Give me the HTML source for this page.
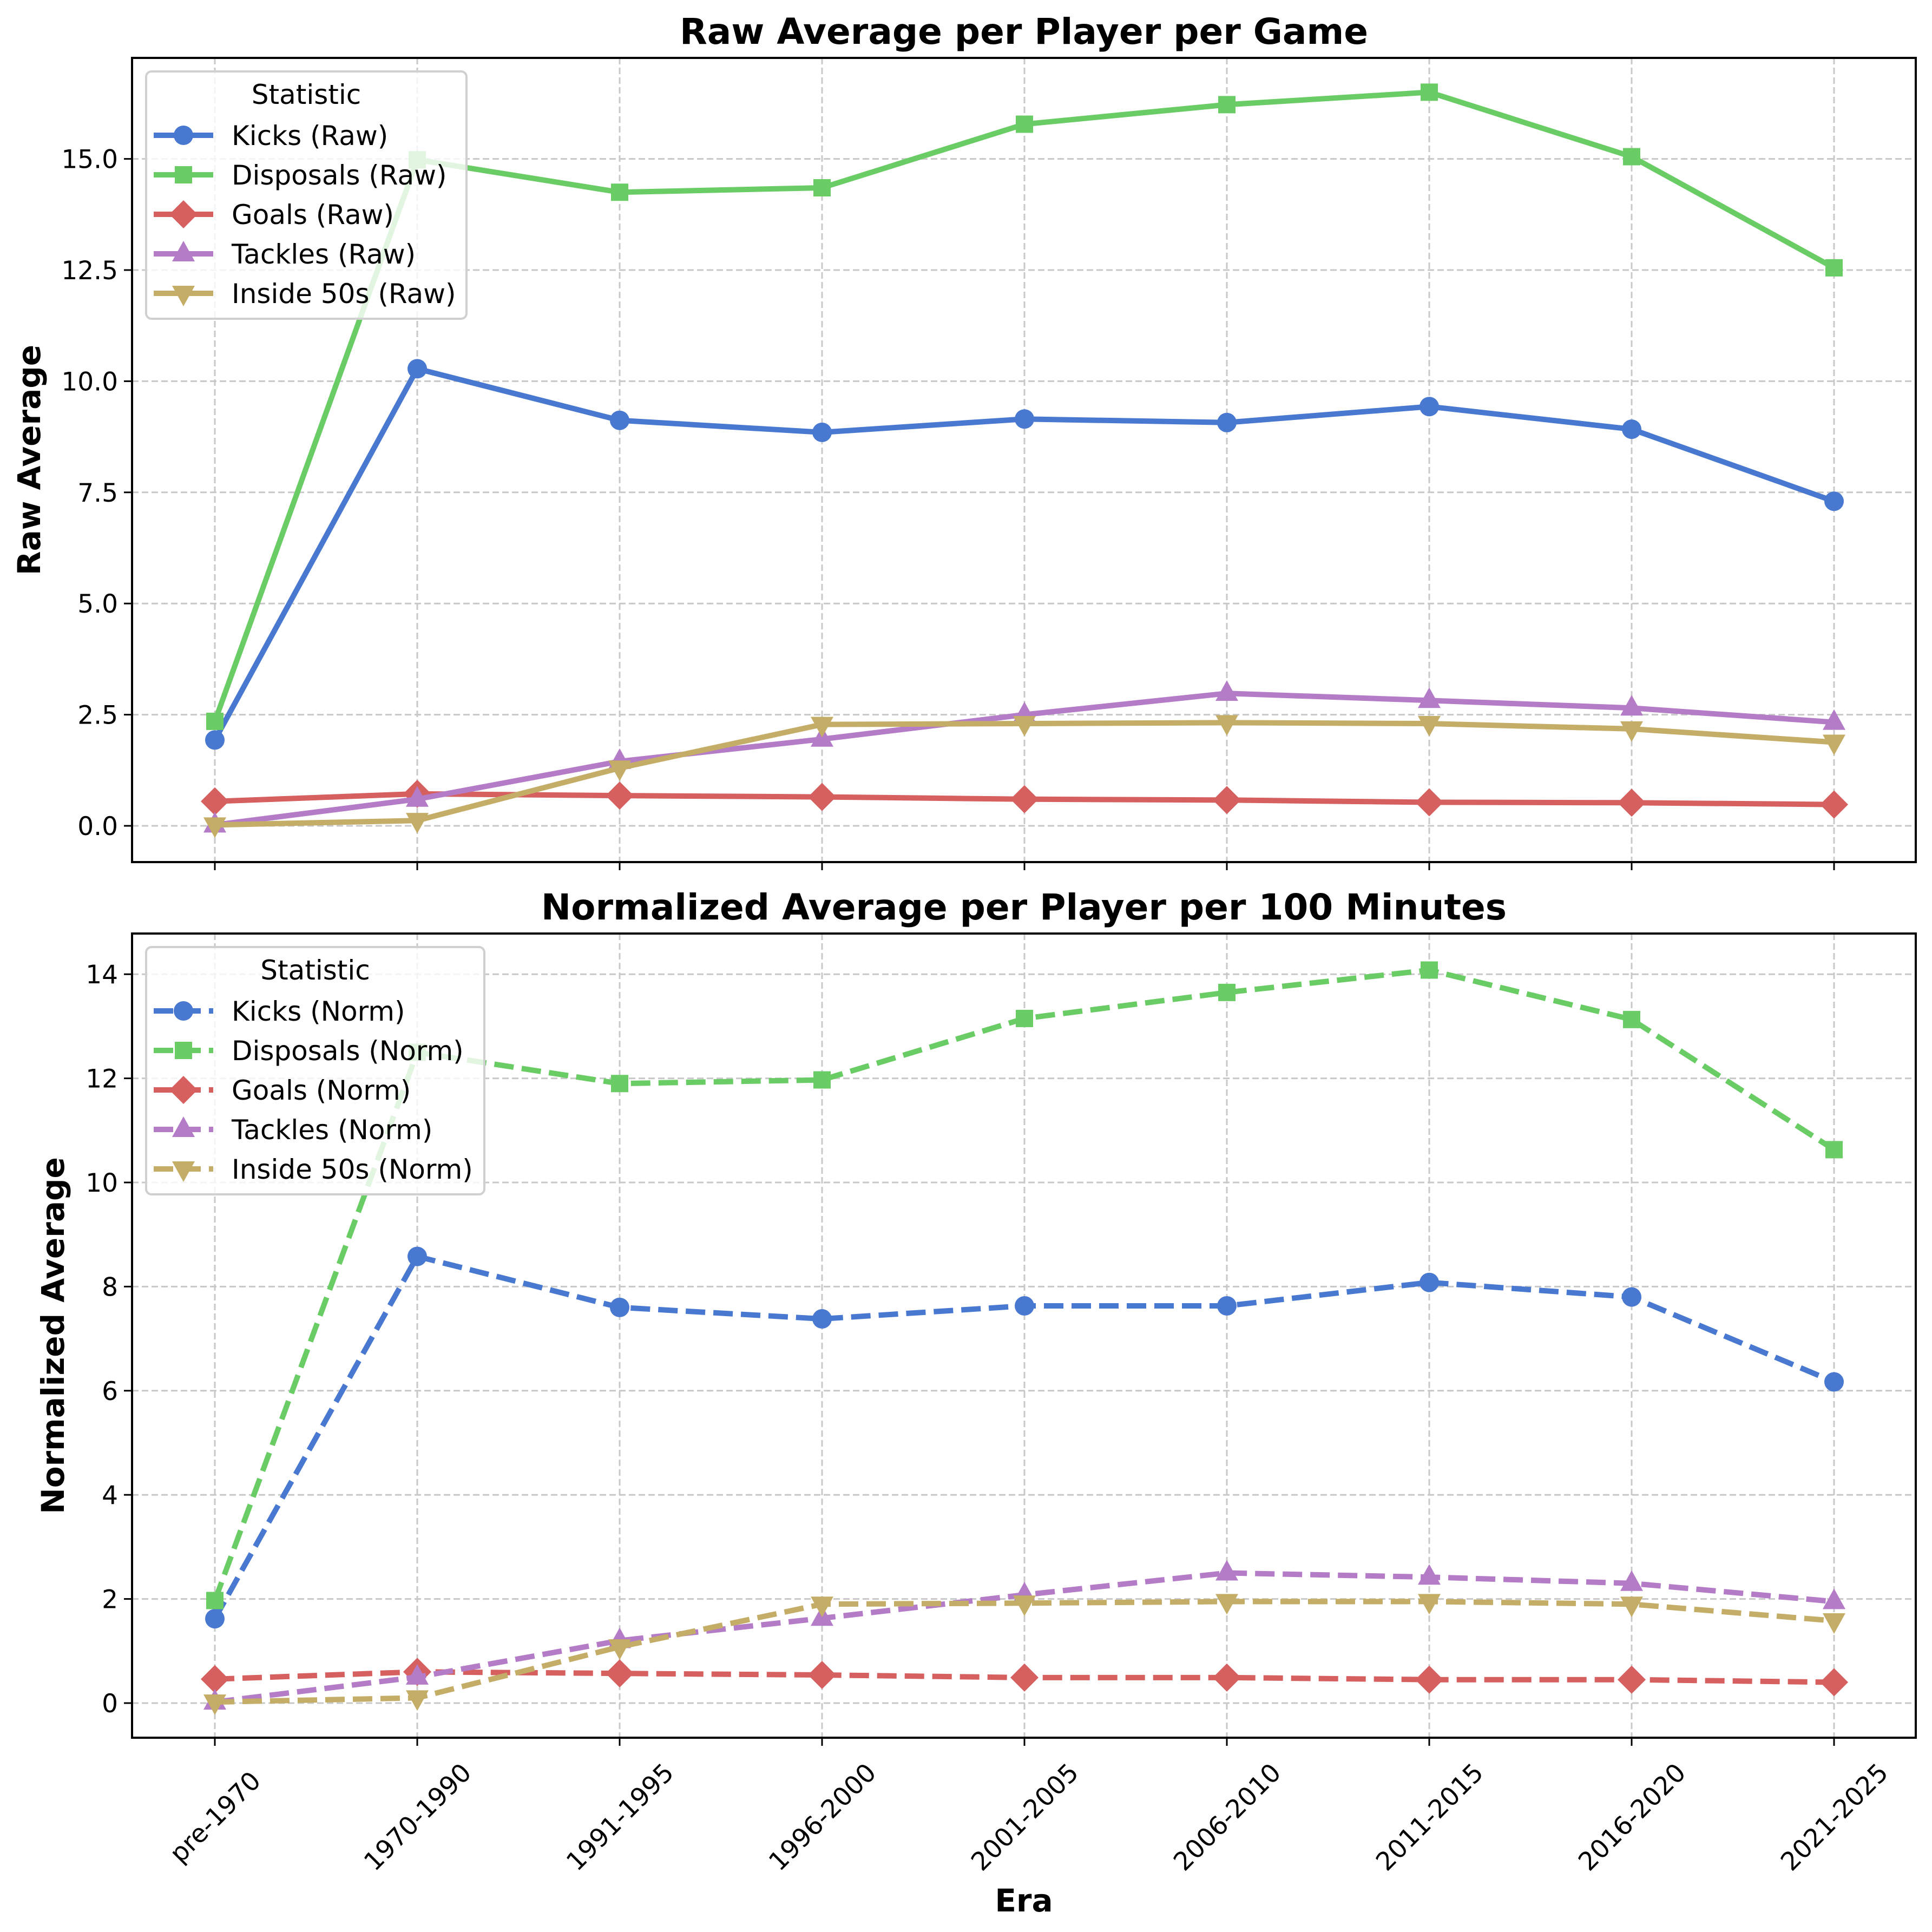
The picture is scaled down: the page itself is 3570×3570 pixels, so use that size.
<!DOCTYPE html>
<html><head><meta charset="utf-8"><style>
html,body{margin:0;padding:0;background:#fff}
svg{display:block}
text{font-family:"DejaVu Sans","Liberation Sans",sans-serif}
</style></head><body>
<svg id="chart" xmlns="http://www.w3.org/2000/svg" width="3570" height="3570" viewBox="0 0 3570 3570"></svg>
<script>
const eras = ["pre-1970","1970-1990","1991-1995","1996-2000","2001-2005","2006-2010","2011-2015","2016-2020","2021-2025"];
const rawKicks = [1.93,10.28,9.12,8.85,9.15,9.07,9.43,8.92,7.3];
const rawDisposals = [2.35,14.98,14.25,14.35,15.78,16.22,16.5,15.05,12.55];
const rawGoals = [0.55,0.72,0.68,0.65,0.6,0.58,0.53,0.52,0.48];
const rawTackles = [0.02,0.6,1.45,1.95,2.5,2.98,2.82,2.65,2.33];
const rawInside50 = [0.02,0.12,1.3,2.28,2.3,2.32,2.3,2.18,1.88];
const normKicks = [1.62,8.58,7.6,7.38,7.63,7.63,8.08,7.8,6.17];
const normDisposals = [1.97,12.5,11.9,11.97,13.15,13.65,14.08,13.13,10.63];
const normGoals = [0.46,0.6,0.57,0.54,0.49,0.49,0.45,0.45,0.4];
const normTackles = [0.02,0.5,1.2,1.63,2.08,2.5,2.42,2.3,1.95];
const normInside50 = [0.02,0.1,1.08,1.9,1.92,1.95,1.95,1.9,1.58];
const rawTicks = [0,2.5,5,7.5,10,12.5,15];
const rawTickLabels = ["0.0","2.5","5.0","7.5","10.0","12.5","15.0"];
const normTicks = [0,2,4,6,8,10,12,14];
const normTickLabels = ["0","2","4","6","8","10","12","14"];
const statNames = ["Kicks","Disposals","Goals","Tackles","Inside 50s"];

const NS="http://www.w3.org/2000/svg";
const svg=document.getElementById('chart');
const colors=["#4878d0","#6acc64","#d65f5f","#b47cc7","#c4ad66"];
const markers=["circle","square","diamond","tri-up","tri-down"];
function el(tag,attrs,parent){const e=document.createElementNS(NS,tag);for(const k in attrs)e.setAttribute(k,attrs[k]);(parent||svg).appendChild(e);return e;}
const L=244,R=3540;
const x=i=>397+i*374;

function marker(g,type,cx,cy,color){
  let m;
  if(type==="circle")m=el('circle',{cx:cx,cy:cy,r:18,fill:color},g);
  else if(type==="square")m=el('rect',{x:cx-16,y:cy-16,width:32,height:32,fill:color},g);
  else if(type==="diamond")m=el('polygon',{points:`${cx},${cy-26} ${cx+26},${cy} ${cx},${cy+26} ${cx-26},${cy}`,fill:color},g);
  else if(type==="tri-up")m=el('polygon',{points:`${cx},${cy-24} ${cx+21},${cy+14} ${cx-21},${cy+14}`,fill:color},g);
  else m=el('polygon',{points:`${cx},${cy+24} ${cx+21},${cy-14} ${cx-21},${cy-14}`,fill:color},g);
  return m;
}

function panel(o){
  const y=v=>o.y0-v*o.k;
  const g=el('g',{});
  
  
  const grid=el('g',{},g);
  
  
  eras.forEach((e,i)=>el('line',{x1:x(i),x2:x(i),y1:o.top,y2:o.bot,stroke:"#c8c8c8","stroke-width":3,"stroke-dasharray":"12 6"},grid));
  o.ticks.forEach(t=>el('line',{x1:L,x2:R,y1:y(t),y2:y(t),stroke:"#c8c8c8","stroke-width":3,"stroke-dasharray":"12 6"},grid));
  o.series.forEach((s,si)=>{
    const sg=el('g',{},g);
    
    
    const pts=s.map((v,i)=>x(i)+','+y(v)).join(' ');
    const attrs={points:pts,fill:"none",stroke:colors[si],"stroke-width":10,"stroke-linejoin":"round"};
    if(o.dashed)attrs["stroke-dasharray"]="36 15";
    el('polyline',attrs,sg);
    s.forEach((v,i)=>{const m=marker(sg,markers[si],x(i),y(v),colors[si]);
      
      });
  });
  const sp=el('rect',{x:L,y:o.top,width:R-L,height:o.bot-o.top,fill:"none",stroke:"#000","stroke-width":4},g);
  
  
  o.ticks.forEach((t,i)=>{
    el('line',{x1:L-15,x2:L,y1:y(t),y2:y(t),stroke:"#000","stroke-width":3},g);
    const tx=el('text',{x:L-26,y:y(t)+17,"font-size":47,"text-anchor":"end",fill:"#000"},g);
    tx.textContent=o.tickLabels[i];
    
    
  });
  eras.forEach((e,i)=>el('line',{x1:x(i),x2:x(i),y1:o.bot,y2:o.bot+15,stroke:"#000","stroke-width":3},g));
  const ti=el('text',{x:(L+R)/2,y:o.top-26,"font-size":66,"font-weight":"bold","text-anchor":"middle"},g);
  ti.textContent=o.title;
  
  
  const yl=el('text',{x:0,y:0,"font-size":58,"font-weight":"bold","text-anchor":"middle",transform:`translate(${o.ylx},${(o.top+o.bot)/2}) rotate(-90)`},g);
  yl.textContent=o.ylabel;
  
  
  const lg=el('g',{},g);
  
  
  el('rect',{x:270,y:o.lt,width:o.lw,height:457,rx:10,fill:"rgba(255,255,255,0.8)",stroke:"#d0d0d0","stroke-width":4},lg);
  const lt=el('text',{x:270+o.lw/2,y:o.lt+60,"font-size":50,"text-anchor":"middle"},lg);
  lt.textContent="Statistic";
  
  
  statNames.forEach((n,i)=>{
    const cy=o.lt+118+i*73;
    const eg=el('g',{},lg);
    
    
    const la={x1:284,x2:394,y1:cy,y2:cy,stroke:colors[i],"stroke-width":10};
    if(o.dashed)la["stroke-dasharray"]="36 15";
    el('line',la,eg);
    marker(eg,markers[i],339,cy,colors[i]);
    const t=el('text',{x:428,y:cy+18,"font-size":50},eg);
    t.textContent=n+o.suffix;
  });
}

panel({name:"raw-panel",top:107,bot:1593,y0:1526,k:82.16,ticks:rawTicks,tickLabels:rawTickLabels,
  series:[rawKicks,rawDisposals,rawGoals,rawTackles,rawInside50],dashed:false,
  title:"Raw Average per Player per Game",ylabel:"Raw Average",ylx:74,lt:132,lw:592,suffix:" (Raw)"});
panel({name:"norm-panel",top:1725,bot:3211,y0:3147,k:96.2,ticks:normTicks,tickLabels:normTickLabels,
  series:[normKicks,normDisposals,normGoals,normTackles,normInside50],dashed:true,
  title:"Normalized Average per Player per 100 Minutes",ylabel:"Normalized Average",ylx:118,lt:1750,lw:625,suffix:" (Norm)"});

eras.forEach((e,i)=>{
  const t=el('text',{x:0,y:0,"font-size":47,"text-anchor":"middle",transform:`translate(${x(i)},${3357}) rotate(-45)`});
  t.setAttribute('dy','17');
  t.textContent=e;
  
  
});
const xl=el('text',{x:(L+R)/2,y:3532,"font-size":58,"font-weight":"bold","text-anchor":"middle"});
xl.textContent="Era";


</script>
</body></html>
